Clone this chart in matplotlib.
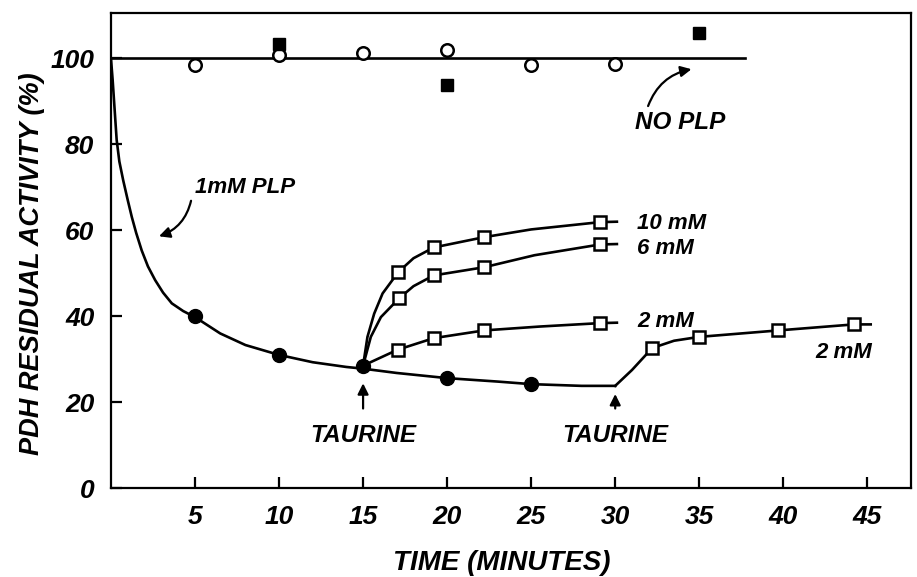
import numpy as np
import matplotlib.pyplot as plt

# Odczytane wartości z wykresu
plp_t = [5, 10, 15, 20, 25]
plp_y = [40, 31, 28.5, 25.6, 24.2]

noplp_t = [5, 10, 15, 20, 25, 30]
noplp_y = [98.4, 100.9, 101.3, 102, 98.4, 98.6]

filled_sq_t = [10, 20, 35]
filled_sq_y = [103.4, 93.7, 105.8]

decay_t = [0, 0.1, 0.34, 0.5, 0.73, 1.0, 1.24, 1.5, 1.83, 2.2, 2.63, 3.1, 3.62, 4.3, 5,
           6.5, 8, 10, 12, 14, 15, 17, 20, 23, 25, 28, 30]
decay_y = [100, 95, 81, 76, 71.6, 67, 63.1, 59.4, 55.3, 51.6, 48.4, 45.5, 43, 41.2, 39.8,
           36, 33.3, 31, 29.3, 28.2, 27.8, 26.8, 25.6, 24.8, 24.2, 23.8, 23.8]

# 2mM po drugim dodaniu tauryny
late_t = [30, 31, 32.2, 33.5, 35, 39.7, 44.2, 45.2]
late_y = [23.8, 27.5, 32.6, 34.3, 35.2, 36.7, 38.1, 38.1]
late_mk_t = [32.2, 35, 39.7, 44.2]
late_mk_y = [32.6, 35.2, 36.7, 38.1]

# 10, 6, 2 mM po pierwszym dodaniu tauryny
c10_t = [15, 15.26, 15.66, 16.16, 17.1, 18, 19.2, 22.2, 25, 29.1, 30.1]
c10_y = [28.5, 35.2, 40.6, 45.3, 50.3, 53.5, 56, 58.4, 60.2, 61.9, 62]
c10_mk_t = [17.1, 19.2, 22.2, 29.1]
c10_mk_y = [50.3, 56, 58.4, 61.9]

c6_t = [15, 15.46, 16.06, 17.15, 18, 19.2, 22.2, 25.2, 29.1, 30.1]
c6_y = [28.5, 35.2, 39.8, 44.2, 47, 49.5, 51.4, 54.2, 56.7, 56.8]
c6_mk_t = [17.15, 19.2, 22.2, 29.1]
c6_mk_y = [44.2, 49.5, 51.4, 56.7]

c2_t = [15, 17.05, 19.2, 22.2, 25.5, 29.1, 30.1]
c2_y = [28.5, 32.2, 34.9, 36.7, 37.6, 38.4, 38.5]
c2_mk_t = [17.05, 19.2, 22.2, 29.1]
c2_mk_y = [32.2, 34.9, 36.7, 38.4]

xticks = [5, 10, 15, 20, 25, 30, 35, 40, 45]
yticks = [0, 20, 40, 60, 80, 100]

plt.rcParams['font.family'] = ['Liberation Sans', 'DejaVu Sans']
font = dict(style='italic', weight='bold')

fig = plt.figure(figsize=(9.17, 5.77), dpi=100)
ax = fig.add_axes([0.121, 0.154, 0.8725, 0.823])

lw = 1.9
ax.plot(decay_t, decay_y, color='black', lw=lw)
ax.plot(late_t, late_y, color='black', lw=lw)
ax.plot(c10_t, c10_y, color='black', lw=lw)
ax.plot(c6_t, c6_y, color='black', lw=lw)
ax.plot(c2_t, c2_y, color='black', lw=lw)
ax.plot([0, 37.7], [100, 100], color='black', lw=lw)

sq = dict(marker='s', ms=8, mfc='white', mec='black', mew=1.8, ls='none', zorder=5)
for tt, yy in [(late_mk_t, late_mk_y), (c10_mk_t, c10_mk_y), (c6_mk_t, c6_mk_y), (c2_mk_t, c2_mk_y)]:
    ax.plot(tt, yy, **sq)

ax.plot(plp_t, plp_y, marker='o', ms=10, color='black', ls='none', zorder=5)
ax.plot(noplp_t, noplp_y, marker='o', ms=9, mfc='white', mec='black', mew=1.8, ls='none', zorder=5)
ax.plot(filled_sq_t, filled_sq_y, marker='s', ms=9, color='black', ls='none', zorder=5)

# podpisy
txt = dict(fontsize=16, **font)
big = dict(fontsize=17.5, **font)
ax.text(31.3, 61.6, '10 mM', va='center', ha='left', **txt)
ax.text(31.3, 55.8, '6 mM', va='center', ha='left', **txt)
ax.text(31.3, 38.8, '2 mM', va='center', ha='left', **txt)
ax.text(41.9, 31.6, '2 mM', va='center', ha='left', **txt)
ax.text(31.2, 85.1, 'NO PLP', va='center', ha='left', **big)
ax.text(5.0, 70.0, '1mM PLP', va='center', ha='left', **txt)

arrow = dict(arrowstyle='-|>', color='black', lw=1.6, mutation_scale=16)
ax.annotate('', xy=(2.7, 58.4), xytext=(4.8, 67.5),
            arrowprops=dict(connectionstyle='arc3,rad=-0.3', **arrow))
ax.annotate('', xy=(34.7, 97.6), xytext=(31.9, 88.3),
            arrowprops=dict(connectionstyle='arc3,rad=-0.3', **arrow))

ax.annotate('TAURINE', xy=(15, 24.4), xytext=(15, 12.3), ha='center', va='center',
            arrowprops=dict(arrowstyle='-|>', color='black', lw=1.6, mutation_scale=16,
                            shrinkA=9, shrinkB=0), **big)
ax.annotate('TAURINE', xy=(30, 21.9), xytext=(30, 12.3), ha='center', va='center',
            arrowprops=dict(arrowstyle='-|>', color='black', lw=1.6, mutation_scale=16,
                            shrinkA=9, shrinkB=0), **big)

ax.set_xlim(0, 47.6)
ax.set_ylim(0, 110.5)
ax.set_xticks(xticks)
ax.set_yticks(yticks)
ax.set_xticklabels([str(v) for v in xticks], fontsize=19, **font)
ax.set_yticklabels([str(v) for v in yticks], fontsize=19, **font)
ax.tick_params(direction='in', length=8, width=1.6, pad=12)
for s in ax.spines.values():
    s.set_linewidth(1.6)

ax.set_xlabel('TIME (MINUTES)', fontsize=20, **font)
ax.set_ylabel('PDH RESIDUAL ACTIVITY (%)', fontsize=19.5, **font)
ax.xaxis.set_label_coords(0.489, -0.131)
ax.yaxis.set_label_coords(-0.0825, 0.472)

fig.savefig('out.png', dpi=100)
